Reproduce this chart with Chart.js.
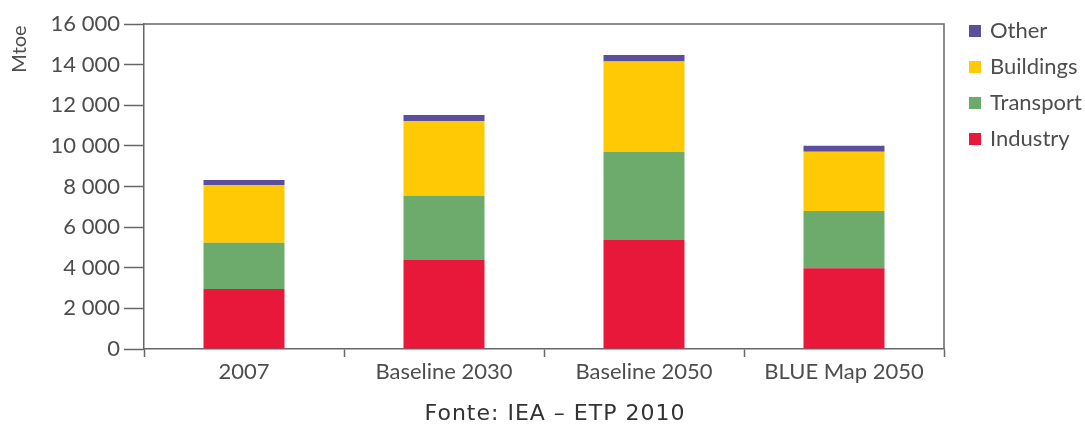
<!DOCTYPE html>
<html>
<head>
<meta charset="utf-8">
<script src="https://cdn.jsdelivr.net/npm/chart.js@4.4.1/dist/chart.umd.min.js"></script>
<style>
  html, body { margin: 0; padding: 0; background: #fff; }
  #wrap { position: relative; width: 1085px; height: 424px; }
</style>
</head>
<body>
<div id="wrap"><canvas id="chart" width="1085" height="424"></canvas></div>
<script>
const categories = ["2007", "Baseline 2030", "Baseline 2050", "BLUE Map 2050"];
const industry = [2950, 4380, 5370, 3970];
const transport = [2280, 3170, 4340, 2820];
const buildings = [2840, 3670, 4440, 2920];
const other = [250, 300, 330, 300];
const yTicks = [0, 2000, 4000, 6000, 8000, 10000, 12000, 14000, 16000];
const caption = "Fonte: IEA \u2013 ETP 2010";
const unit = "Mtoe";

const colors = {
  Industry: "#e8183b",
  Transport: "#6dab6d",
  Buildings: "#ffc905",
  Other: "#5b4f9c",
};

const FONT = "Lato";
const AXIS = "#666";
const TXT = "#4d4d4d";

function fmt(v) {
  return String(v).replace(/\B(?=(\d{3})+(?!\d))/g, " ");
}

const extras = {
  id: "extras",
  afterDraw(c) {
    const ctx = c.ctx;
    const ca = c.chartArea;
    ctx.save();
    // frame top + right
    ctx.strokeStyle = AXIS;
    ctx.lineWidth = 1.5;
    ctx.beginPath();
    ctx.moveTo(ca.left, ca.top);
    ctx.lineTo(ca.right, ca.top);
    ctx.lineTo(ca.right, ca.bottom);
    ctx.stroke();

    // unit label
    ctx.fillStyle = TXT;
    ctx.font = "20px " + FONT;
    ctx.translate(20, 49);
    ctx.rotate(-Math.PI / 2);
    ctx.textAlign = "center";
    ctx.textBaseline = "middle";
    ctx.fillText(unit, 0, 0);
    ctx.restore();

    // legend, top item = last dataset
    ctx.save();
    ctx.font = "22px " + FONT;
    ctx.textBaseline = "middle";
    const ds = c.data.datasets.slice().reverse();
    ds.forEach((d, i) => {
      const y = 31 + i * 36;
      ctx.fillStyle = d.backgroundColor;
      ctx.fillRect(969, y - 6, 12, 12);
      ctx.fillStyle = TXT;
      ctx.fillText(d.label, 990, y);
    });

    // caption
    ctx.font = "22px 'DejaVu Sans'";
    ctx.letterSpacing = "1px";
    ctx.textAlign = "center";
    ctx.fillStyle = "#333";
    ctx.fillText(caption, 555, 414);
    ctx.restore();
  },
};

const ctx = document.getElementById("chart").getContext("2d");

new Chart(ctx, {
  type: "bar",
  data: {
    labels: categories,
    datasets: [
      { label: "Industry", data: industry, backgroundColor: colors.Industry },
      { label: "Transport", data: transport, backgroundColor: colors.Transport },
      { label: "Buildings", data: buildings, backgroundColor: colors.Buildings },
      { label: "Other", data: other, backgroundColor: colors.Other },
    ].map((d) => ({ ...d, categoryPercentage: 1, barPercentage: 0.405, borderWidth: 0 })),
  },
  options: {
    responsive: false,
    animation: false,
    layout: { padding: { top: 24, right: 141, left: 0, bottom: 0 } },
    plugins: { legend: { display: false }, tooltip: { enabled: false } },
    scales: {
      x: {
        stacked: true,
        afterFit(s) { s.height = 75; },
        grid: {
          offset: true,
          drawOnChartArea: false,
          tickLength: 8,
          tickColor: AXIS,
          tickWidth: 1.5,
        },
        border: { display: true, color: AXIS, width: 1.5 },
        ticks: {
          padding: 2,
          color: TXT,
          font: { family: FONT, size: 22 },
          maxRotation: 0,
        },
      },
      y: {
        stacked: true,
        min: 0,
        max: 16000,
        afterFit(s) { s.width = 144; },
        afterBuildTicks(s) { s.ticks = yTicks.map((v) => ({ value: v })); },
        grid: {
          drawOnChartArea: false,
          tickLength: 20,
          tickColor: AXIS,
          tickWidth: 1.5,
        },
        border: { display: true, color: AXIS, width: 1.5 },
        ticks: {
          padding: 4,
          color: TXT,
          font: { family: FONT, size: 22 },
          callback: (v) => fmt(v),
        },
      },
    },
  },
  plugins: [extras],
});
</script>
</body>
</html>
